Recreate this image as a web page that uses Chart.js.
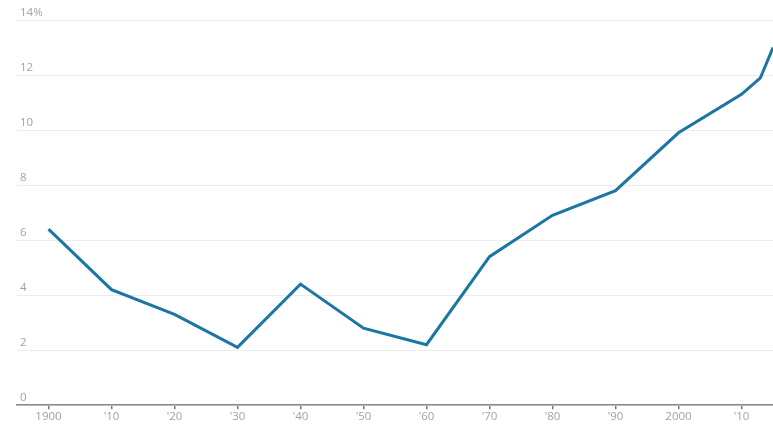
<!DOCTYPE html>
<html>
<head>
<meta charset="utf-8">
<script src="https://cdn.jsdelivr.net/npm/chart.js@4"></script>
<style>
  html, body { margin: 0; padding: 0; background: #fff; }
  #wrap { width: 773px; height: 427px; }
</style>
</head>
<body>
<div id="wrap"><canvas id="chart" width="773" height="427"></canvas></div>
<script>
// share by year, in percent
const years = [1900, 1910, 1920, 1930, 1940, 1950, 1960, 1970, 1980, 1990, 2000, 2010, 2013, 2015];
const shares = [6.4, 4.2, 3.3, 2.1, 4.4, 2.8, 2.2, 5.4, 6.9, 7.8, 9.9, 11.3, 11.9, 13.0];

const tickYears = [1900, 1910, 1920, 1930, 1940, 1950, 1960, 1970, 1980, 1990, 2000, 2010];
const tickLabels = ['1900', "'10", "'20", "'30", "'40", "'50", "'60", "'70", "'80", "'90", '2000', "'10"];

const labelFont = { family: 'Open Sans', size: 11.5 };
const labelColor = '#a2a2a2';

const points = years.map((y, i) => ({ x: y, y: shares[i] }));

const chart = new Chart(document.getElementById('chart'), {
    type: 'line',
    data: {
        datasets: [{
            data: points,
            borderColor: '#1b76a1',
            borderWidth: 3,
            tension: 0,
            pointRadius: 0,
            fill: false
        }]
    },
    options: {
        responsive: false,
        animation: false,
        layout: {
            padding: { left: 11, right: 0, top: 20, bottom: 2 }
        },
        plugins: {
            legend: { display: false },
            tooltip: { enabled: false }
        },
        scales: {
            x: {
                type: 'linear',
                min: 1895,
                max: 2015,
                afterBuildTicks: (axis) => {
                    axis.ticks = tickYears.map(v => ({ value: v }));
                },
                ticks: {
                    autoSkip: false,
                    maxRotation: 0,
                    padding: 1,
                    color: labelColor,
                    font: labelFont,
                    callback: (value) => {
                        const i = tickYears.indexOf(value);
                        return i >= 0 ? tickLabels[i] : '';
                    }
                },
                grid: {
                    drawOnChartArea: false,
                    drawTicks: true,
                    tickLength: 4,
                    color: '#777',
                    lineWidth: 1.5
                },
                border: {
                    display: true,
                    color: '#888',
                    width: 1.5
                }
            },
            y: {
                min: 0,
                max: 14,
                ticks: {
                    stepSize: 2,
                    mirror: true,
                    padding: 3,
                    labelOffset: -7,
                    color: labelColor,
                    font: labelFont,
                    callback: (value) => value === 14 ? '14%' : String(value)
                },
                grid: {
                    drawTicks: false,
                    color: '#ececec',
                    lineWidth: 1
                },
                border: { display: false }
            }
        }
    }
});
</script>
</body>
</html>
